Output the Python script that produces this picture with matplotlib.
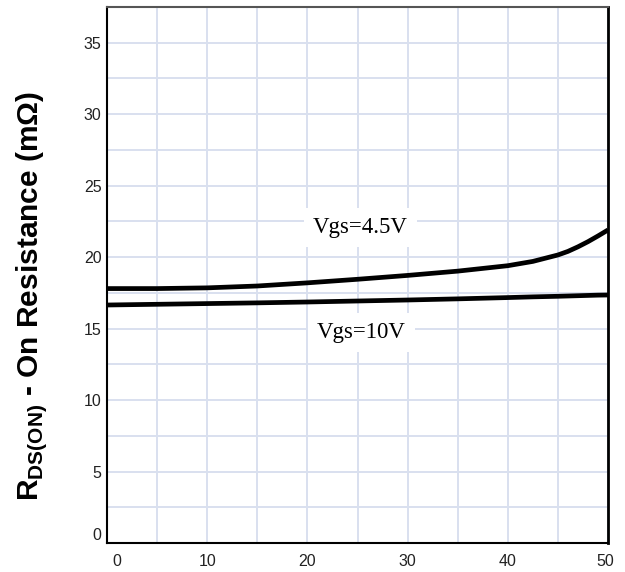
import matplotlib.pyplot as plt
from matplotlib.transforms import ScaledTranslation

plt.rcParams['mathtext.fontset'] = 'custom'
plt.rcParams['mathtext.rm'] = 'Liberation Sans:weight=bold'
plt.rcParams['mathtext.bf'] = 'Liberation Sans:weight=bold'

# curve data
current = [0, 5, 10, 15, 20, 25, 30, 35, 40, 42.5, 45, 46, 47, 48, 49, 50]
r_45v = [17.8, 17.8, 17.85, 17.98, 18.2, 18.45, 18.72, 19.02, 19.4, 19.7, 20.15,
         20.4, 20.72, 21.08, 21.48, 21.9]
r_10v = [16.65, 16.7, 16.75, 16.8, 16.86, 16.93, 17.0, 17.08, 17.17, 17.22, 17.26,
         17.28, 17.3, 17.32, 17.34, 17.35]

x_ticks = [0, 10, 20, 30, 40, 50]
y_ticks = [0, 5, 10, 15, 20, 25, 30, 35]

fig = plt.figure(figsize=(6.25, 5.72), dpi=100)
ax = fig.add_axes([0.1712, 0.0507, 0.8016, 0.9371])

ax.plot(current, r_45v, color='black', lw=3.4, solid_capstyle='butt', zorder=3)
ax.plot(current, r_10v, color='black', lw=3.4, solid_capstyle='butt', zorder=3)

ax.set_xlim(0, 50)
ax.set_ylim(0, 37.5)
ax.set_xticks(x_ticks)
ax.set_yticks(y_ticks)
ax.set_xticks([v / 2 for v in range(0, 101, 10)], minor=True)
ax.set_yticks([v * 2.5 for v in range(16)], minor=True)
ax.grid(True, which='both', color='#d9e0ef', lw=1.4, zorder=0)
ax.tick_params(which='both', length=0)
ax.tick_params(axis='x', pad=8, labelsize=11.5, colors='#222222')
ax.tick_params(axis='y', pad=4, labelsize=11.5, colors='#222222')
for lbl in ax.get_xticklabels() + ax.get_yticklabels():
    lbl.set_family('Liberation Sans')
# edge labels sit a little inward, as in the reference
first = ax.get_xticklabels()[0]
first.set_transform(first.get_transform() + ScaledTranslation(0.1, 0, fig.dpi_scale_trans))
last = ax.get_xticklabels()[-1]
last.set_transform(last.get_transform() + ScaledTranslation(-0.03, 0, fig.dpi_scale_trans))
ax.get_yticklabels()[0].set_verticalalignment('bottom')

ax.spines['top'].set_color('#555555')
ax.spines['top'].set_linewidth(1.5)
ax.spines['right'].set_linewidth(2.0)
ax.spines['left'].set_linewidth(1.5)
ax.spines['bottom'].set_linewidth(1.5)

box = dict(boxstyle='square,pad=0.4', fc='white', ec='none')
ax.text(25.3, 21.7, 'Vgs=4.5V', ha='center', va='baseline', fontsize=16.5,
        family='Liberation Serif', bbox=box, zorder=4)
ax.text(25.4, 14.35, 'Vgs=10V', ha='center', va='baseline', fontsize=16.5,
        family='Liberation Serif', bbox=box, zorder=4)

fig.text(0.05, 0.482, r'R$_{\mathbf{DS(ON)}}$ - On Resistance (mΩ)', rotation=90,
         ha='center', va='center', fontsize=21.5, fontweight='bold',
         family='Liberation Sans')

fig.savefig('out.png', dpi=100)
